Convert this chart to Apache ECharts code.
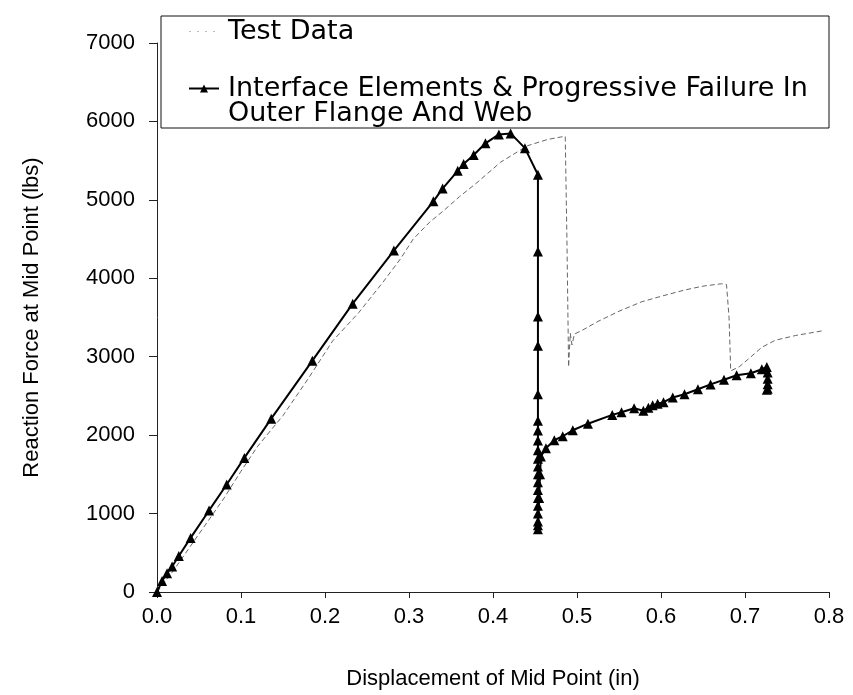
<!DOCTYPE html>
<html>
<head>
<meta charset="utf-8">
<script src="https://cdn.jsdelivr.net/npm/echarts@6/dist/echarts.min.js"></script>
<style>
  html, body { margin: 0; padding: 0; background: #fff; }
  #chart { width: 853px; height: 695px; }
</style>
</head>
<body>
<div id="chart"></div>
<script>
const testX = [0, 0.02, 0.05, 0.08, 0.1, 0.12, 0.15, 0.18, 0.209, 0.24, 0.269, 0.29, 0.305, 0.325, 0.341, 0.36, 0.381, 0.409, 0.441, 0.465, 0.48, 0.486,
  0.488, 0.49, 0.492, 0.494, 0.497, 0.505, 0.525, 0.55, 0.577, 0.6, 0.628, 0.65, 0.672, 0.678,
  0.681, 0.683, 0.693, 0.705, 0.72, 0.736, 0.76, 0.792]
const testY = [0, 280, 740, 1200, 1540, 1860, 2250, 2720, 3200, 3560, 3950, 4250, 4500, 4720, 4860, 5040, 5220, 5480, 5690, 5770, 5800, 5810,
  4500, 2870, 3300, 3150, 3290, 3330, 3450, 3580, 3700, 3770, 3850, 3900, 3930, 3920,
  3500, 2820, 2870, 2980, 3120, 3210, 3270, 3330]

// FE model: interface elements & progressive failure
const modelX = [0, 0.006, 0.012, 0.018, 0.026, 0.04, 0.062, 0.083, 0.104, 0.136, 0.185, 0.233, 0.282, 0.329, 0.34, 0.358, 0.365, 0.377, 0.391, 0.407, 0.421, 0.438, 0.4535,
  0.4535, 0.4535, 0.4535, 0.4535, 0.4535, 0.4535, 0.4535, 0.4535, 0.4535, 0.4535, 0.4535, 0.4535, 0.4535, 0.4535, 0.4535, 0.4535, 0.4535, 0.4535, 0.4535,
  0.455, 0.456, 0.457, 0.463, 0.473, 0.483, 0.495, 0.513, 0.542, 0.553, 0.568, 0.579, 0.585, 0.59, 0.596, 0.603, 0.614, 0.628, 0.644, 0.659, 0.675, 0.69, 0.707,
  0.72, 0.726, 0.727, 0.727, 0.727, 0.727, 0.726]
const modelY = [0, 140, 240, 325, 460, 690, 1040, 1370, 1710, 2210, 2950, 3676, 4354, 4981, 5144, 5370, 5458, 5571, 5721, 5834, 5847, 5659, 5320,
  4341, 3513, 3140, 2522, 2183, 2058, 1932, 1807, 1700, 1600, 1500, 1400, 1300, 1200, 1100, 1000, 900, 850, 800,
  1200, 1500, 1728, 1832, 1936, 1986, 2062, 2146, 2258, 2292, 2342, 2310, 2350, 2380, 2400, 2420, 2480, 2522, 2585, 2647, 2706, 2764, 2789,
  2840, 2870, 2800, 2720, 2650, 2590, 2580]

const xTicks = [0, 0.1, 0.2, 0.3, 0.4, 0.5, 0.6, 0.7, 0.8]
const yTicks = [0, 1000, 2000, 3000, 4000, 5000, 6000, 7000]

const seriesNames = ['Test Data', 'Interface Elements & Progressive Failure In\nOuter Flange And Web']

const FONT = 'Liberation Sans, Arial, sans-serif'
const LEGEND_FONT = 'DejaVu Sans, Liberation Sans, sans-serif'

const chart = echarts.init(document.getElementById('chart'), null, { renderer: 'canvas' })

const zip = (xs, ys) => xs.map((x, i) => [x, ys[i]])

const option = {
  animation: false,
  backgroundColor: '#fff',
  grid: { left: 157, right: 24, top: 43, bottom: 94 },
  graphic: [
    {
      type: 'rect',
      z: 0,
      shape: { x: 161, y: 16, width: 668, height: 112 },
      style: { fill: 'transparent', stroke: '#111', lineWidth: 1 }
    }
  ],
  legend: {
    orient: 'vertical',
    left: 188,
    top: 18,
    padding: 0,
    itemGap: 5,
    itemWidth: 30,
    itemHeight: 10,
    textStyle: { fontFamily: LEGEND_FONT, fontSize: 27, color: '#000', lineHeight: 25, padding: [0, 0, 0, 4] },
    // blank first line so the icon sits on the first text row
    formatter: name => (name === seriesNames[1] ? '\n' + name : name),
    data: [
      { name: seriesNames[0], itemStyle: { opacity: 0 }, lineStyle: { color: '#bbb', width: 1, type: [2, 6] } },
      { name: seriesNames[1] }
    ]
  },
  xAxis: {
    type: 'value',
    min: 0,
    max: 0.8,
    interval: 0.1,
    name: 'Displacement of Mid Point (in)',
    nameLocation: 'middle',
    nameGap: 76,
    nameTextStyle: { fontFamily: FONT, fontSize: 22, color: '#000' },
    axisLine: { show: true, lineStyle: { color: '#222', width: 1 } },
    axisTick: { show: true, inside: false, length: 6, lineStyle: { color: '#222' } },
    axisLabel: { fontFamily: FONT, fontSize: 22, color: '#000', margin: 14, formatter: v => v.toFixed(1) },
    splitLine: { show: false }
  },
  yAxis: {
    type: 'value',
    min: 0,
    max: 7000,
    interval: 1000,
    name: 'Reaction Force at Mid Point (lbs)',
    nameLocation: 'middle',
    nameGap: 114,
    nameTextStyle: { fontFamily: FONT, fontSize: 22, color: '#000' },
    axisLine: { show: true, lineStyle: { color: '#222', width: 1 } },
    axisTick: { show: true, inside: false, length: 8, lineStyle: { color: '#222' } },
    axisLabel: { fontFamily: FONT, fontSize: 22, color: '#000', margin: 22, formatter: v => String(v) },
    splitLine: { show: false }
  },
  series: [
    {
      name: seriesNames[0],
      type: 'line',
      data: zip(testX, testY),
      showSymbol: false,
      symbol: 'none',
      lineStyle: { color: '#666', width: 1, type: [5, 3] },
      itemStyle: { color: '#aaa' },
      z: 2
    },
    {
      name: seriesNames[1],
      type: 'line',
      data: zip(modelX, modelY),
      symbol: 'triangle',
      symbolSize: 10,
      lineStyle: { color: '#000', width: 2 },
      itemStyle: { color: '#000' },
      z: 3
    }
  ]
}

chart.setOption(option)
</script>
</body>
</html>
